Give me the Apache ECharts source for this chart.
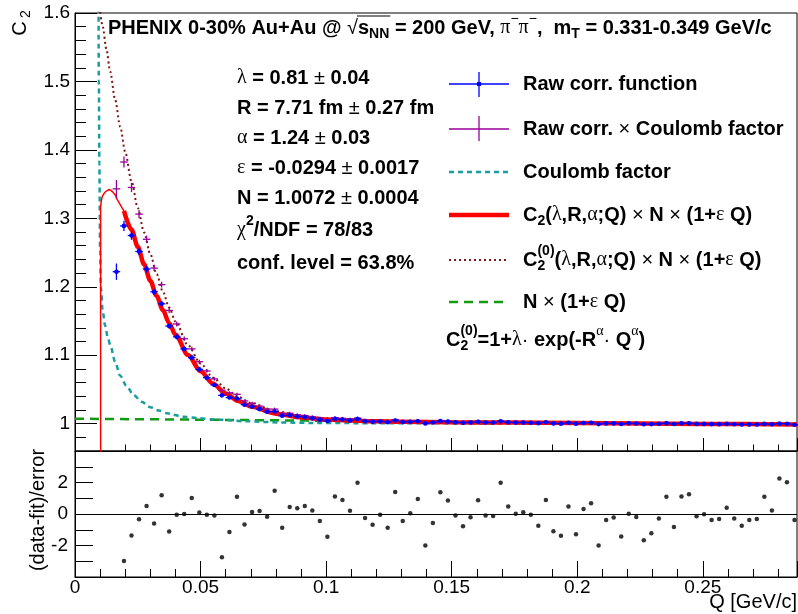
<!DOCTYPE html>
<html><head><meta charset="utf-8">
<script src="https://cdn.jsdelivr.net/npm/echarts@6/dist/echarts.min.js"></script>
<style>html,body{margin:0;padding:0;background:#fff}#c{width:798px;height:614px}</style>
</head><body><div id="c"></div>
<script>
// ---------------- data ----------------
const qBins = [0.0165, 0.0195, 0.0225, 0.0255, 0.0285, 0.0315, 0.0345, 0.0375, 0.0405, 0.0435,
  0.0465, 0.0495, 0.0525, 0.0555, 0.0585, 0.0615, 0.0645, 0.0675, 0.0705, 0.0735,
  0.0765, 0.0795, 0.0825, 0.0855, 0.0885, 0.0915, 0.0945, 0.0975, 0.1005, 0.1035,
  0.1065, 0.1095, 0.1125, 0.1155, 0.1185, 0.1215, 0.1245, 0.1275, 0.1305, 0.1335,
  0.1365, 0.1395, 0.1425, 0.1455, 0.1485, 0.1515, 0.1545, 0.1575, 0.1605, 0.1635,
  0.1665, 0.1695, 0.1725, 0.1755, 0.1785, 0.1815, 0.1845, 0.1875, 0.1905, 0.1935,
  0.1965, 0.1995, 0.2025, 0.2055, 0.2085, 0.2115, 0.2145, 0.2175, 0.2205, 0.2235,
  0.2265, 0.2295, 0.2325, 0.2355, 0.2385, 0.2415, 0.2445, 0.2475, 0.2505, 0.2535,
  0.2565, 0.2595, 0.2625, 0.2655, 0.2685, 0.2715, 0.2745, 0.2775, 0.2805, 0.2835, 0.2865];
const binHalfWidth = 0.0015;

const rawCorr = [1.222, 1.2889, 1.2749, 1.2515, 1.2258, 1.1926, 1.1751, 1.1426, 1.1268, 1.1092,
  1.0964, 1.0792, 1.0672, 1.0565, 1.0413, 1.0381, 1.0366, 1.0277, 1.0249, 1.0212,
  1.0174, 1.0177, 1.0115, 1.0122, 1.0103, 1.0093, 1.0077, 1.0058, 1.0038, 1.0069,
  1.0060, 1.0047, 1.0066, 1.0034, 1.0026, 1.0032, 1.0020, 1.0045, 1.0022, 1.0026,
  1.0035, 1.0003, 1.0017, 1.0036, 1.0029, 1.0019, 1.0012, 1.0017, 1.0026, 1.0016,
  1.0016, 1.0033, 1.0019, 1.0015, 1.0015, 1.0013, 1.0007, 1.0019, 1.0003, 1.0000,
  1.0013, 1.0000, 1.0010, 1.0013, 0.9993, 1.0003, 1.0003, 0.9995, 1.0004, 1.0002,
  0.9991, 0.9993, 0.9998, 1.0007, 0.9994, 1.0005, 1.0004, 0.9996, 0.9996, 0.9993,
  0.9992, 0.9996, 0.9991, 0.9988, 0.9989, 0.9988, 0.9996, 0.9990, 1.0000, 0.9997, 0.9984];
const rawErr = [0.012, 0.0074, 0.0064, 0.0056, 0.0051, 0.0046, 0.0042, 0.0038, 0.0036, 0.0033,
  0.0031, 0.0029, 0.0027, 0.0026, 0.0025, 0.0023, 0.0022, 0.0021, 0.0020, 0.0020,
  0.0019, 0.0018, 0.0017, 0.0017, 0.0016, 0.0016, 0.0015, 0.0015, 0.0014, 0.0014,
  0.00135, 0.0013, 0.0013, 0.00125, 0.0012, 0.0012, 0.00115, 0.00113, 0.0011, 0.00108,
  0.00105, 0.00103, 0.00101, 0.00099, 0.00097, 0.00095, 0.00093, 0.00091, 0.0009, 0.00088,
  0.00086, 0.00085, 0.00083, 0.00082, 0.00081, 0.00079, 0.00078, 0.00077, 0.00076, 0.00074,
  0.00073, 0.00072, 0.00071, 0.0007, 0.00069, 0.00068, 0.00067, 0.00066, 0.00065, 0.00064,
  0.00064, 0.00063, 0.00062, 0.00061, 0.0006, 0.0006, 0.00059, 0.00058, 0.00057, 0.00057,
  0.00056, 0.00055, 0.00055, 0.00054, 0.00054, 0.00053, 0.00052, 0.00052, 0.00051, 0.00051, 0.0005];

const coulombCorr = [1.343, 1.3823, 1.3451, 1.3061, 1.2694, 1.2273, 1.2031, 1.1654, 1.1456, 1.1240,
  1.1092, 1.0905, 1.0769, 1.0653, 1.0488, 1.0450, 1.0429, 1.0331, 1.0298, 1.0256,
  1.0214, 1.0212, 1.0148, 1.0151, 1.0130, 1.0117, 1.0100, 1.0080, 1.0058, 1.0087,
  1.0077, 1.0063, 1.0081, 1.0048, 1.0039, 1.0045, 1.0032, 1.0056, 1.0033, 1.0036,
  1.0044, 1.0012, 1.0025, 1.0044, 1.0037, 1.0027, 1.0020, 1.0024, 1.0033, 1.0023,
  1.0022, 1.0039, 1.0025, 1.0021, 1.0020, 1.0018, 1.0012, 1.0024, 1.0008, 1.0004,
  1.0017, 1.0004, 1.0014, 1.0017, 0.9997, 1.0006, 1.0006, 0.9998, 1.0007, 1.0005,
  0.9994, 0.9996, 1.0001, 1.0009, 0.9996, 1.0007, 1.0006, 0.9998, 0.9998, 0.9995,
  0.9994, 0.9998, 0.9993, 0.9989, 0.9990, 0.9989, 0.9997, 0.9991, 1.0001, 0.9998, 0.9985];
const coulombErr = [0.013, 0.0079, 0.0068, 0.0059, 0.0053, 0.0048, 0.0043, 0.0039, 0.0037, 0.0034,
  0.0031, 0.0029, 0.0027, 0.0026, 0.0025, 0.0023, 0.0022, 0.0021, 0.0020, 0.0020,
  0.0019, 0.0018, 0.0017, 0.0017, 0.0016, 0.0016, 0.0015, 0.0015, 0.0014, 0.0014,
  0.00135, 0.0013, 0.0013, 0.00125, 0.0012, 0.0012, 0.00115, 0.00113, 0.0011, 0.00108,
  0.00105, 0.00103, 0.00101, 0.00099, 0.00097, 0.00095, 0.00093, 0.00091, 0.0009, 0.00088,
  0.00086, 0.00085, 0.00083, 0.00082, 0.00081, 0.00079, 0.00078, 0.00077, 0.00076, 0.00074,
  0.00073, 0.00072, 0.00071, 0.0007, 0.00069, 0.00068, 0.00067, 0.00066, 0.00065, 0.00064,
  0.00064, 0.00063, 0.00062, 0.00061, 0.0006, 0.0006, 0.00059, 0.00058, 0.00057, 0.00057,
  0.00056, 0.00055, 0.00055, 0.00054, 0.00054, 0.00053, 0.00052, 0.00052, 0.00051, 0.00051, 0.0005];

// (data-fit)/error, bins 0.0195 ... 0.2865
const residQ = qBins.slice(1);
const residuals = [-2.98, -1.36, -0.34, 0.51, -0.61, 1.19, -1.11, -0.04, 0.00, 1.02,
  0.09, -0.04, -0.09, -2.75, -1.15, 1.09, -0.66, 0.13, 0.19, -0.17,
  1.47, -0.87, 0.45, 0.36, 0.51, 0.23, -0.45, -1.45, 1.11, 0.89,
  0.21, 1.98, -0.26, -0.68, -0.04, -0.87, 1.40, -0.45, 0.04, 0.96,
  -2.00, -0.57, 1.38, 0.85, -0.09, -0.77, -0.21, 0.87, -0.09, -0.13,
  1.98, 0.47, 0.02, 0.11, -0.04, -0.74, 0.89, -1.09, -1.38, 0.47,
  -1.28, 0.32, 0.68, -2.00, -0.38, -0.23, -1.43, 0.02, -0.19, -1.66,
  -1.23, -0.28, 1.09, -0.83, 1.11, 1.26, -0.15, -0.02, -0.38, -0.32,
  0.40, -0.28, -0.74, -0.38, -0.32, 1.09, 0.23, 2.26, 2.02, -0.38];

// fit curve C2 x N x (1+eps Q): thin part (outside fit range) and thick part
const fitThinQ = [0.0102, 0.0102, 0.0105, 0.0109, 0.0115, 0.0122, 0.0130, 0.0138, 0.0149, 0.0160, 0.0169, 0.0180, 0.0188, 0.0195];
const fitThinV = [0.900, 1.317, 1.326, 1.332, 1.336, 1.339, 1.341, 1.342, 1.339, 1.334, 1.327, 1.320, 1.315, 1.311];
const fitQ = [0.0195, 0.0225, 0.025, 0.0275, 0.03, 0.0325, 0.035, 0.0375, 0.04, 0.045, 0.05, 0.055, 0.06, 0.065, 0.07, 0.08, 0.09, 0.1, 0.11, 0.12, 0.13, 0.15, 0.175, 0.2, 0.25, 0.2875];
const fitV = [1.311, 1.2835, 1.2584, 1.2327, 1.2087, 1.1866, 1.1659, 1.1468, 1.1299, 1.1003, 1.0765, 1.0581, 1.0440, 1.0331, 1.0251, 1.0146, 1.0090, 1.0059, 1.0044, 1.0033, 1.0028, 1.0021, 1.0015, 1.0009, 0.9996, 0.9986];

// C2^(0) x N x (1+eps Q)
const c0Q = [0.0098, 0.011, 0.0125, 0.014, 0.016, 0.018, 0.020, 0.0225, 0.025, 0.0275, 0.030, 0.0325, 0.035, 0.0375, 0.040, 0.045, 0.050, 0.055, 0.060, 0.065, 0.070, 0.080, 0.090, 0.100, 0.120, 0.150, 0.200, 0.250, 0.2875];
const c0V = [1.6085, 1.5810, 1.5473, 1.5147, 1.4731, 1.4339, 1.3969, 1.3541, 1.3150, 1.2795, 1.2474, 1.2186, 1.1927, 1.1697, 1.1491, 1.1146, 1.0878, 1.0671, 1.0513, 1.0393, 1.0302, 1.0182, 1.0115, 1.0079, 1.0046, 1.0029, 1.0013, 0.9998, 0.9987];

// Coulomb factor
const coulQ = [0.0093, 0.0095, 0.0097, 0.0100, 0.0103, 0.0110, 0.0120, 0.0130, 0.0141, 0.0160, 0.0180, 0.0205, 0.0233, 0.0265, 0.0300, 0.0335, 0.0367, 0.0431, 0.0490, 0.0550, 0.0685, 0.0820, 0.0950, 0.1200, 0.1600, 0.2200, 0.2875];
const coulV = [1.70, 1.50, 1.38, 1.25, 1.20, 1.165, 1.143, 1.127, 1.114, 1.090, 1.070, 1.055, 1.042, 1.032, 1.024, 1.019, 1.015, 1.010, 1.008, 1.0063, 1.0034, 1.0017, 1.0010, 1.0006, 1.0003, 1.0002, 1.0001];

// N x (1 + eps Q)
const baseQ = [0, 0.2875];
const baseV = [1.0072, 0.9987];

// axes
const Q_MAX = 0.2875;
const C2_MIN = 0.96, C2_MAX = 1.6;
const RES_MIN = -4, RES_MAX = 4;

// ---------------- styles ----------------
const SANS = '"Liberation Sans", Arial, Helvetica, sans-serif';
const SERIF = '"Liberation Serif", "Times New Roman", serif';
const COL = { blue:'#0000ff', purple:'#990099', teal:'#1a9d9d', red:'#ff0000', dotted:'#801515', green:'#139a13' };
const DASH = { teal:[5,4], dotted:[2,3], green:[9,6] };

const pairs = (xs, ys) => xs.map((x, i) => [x, ys[i]]);

function errRender(color, withDot){
  return function(params, api){
    const x = api.value(0), y = api.value(1), e = api.value(2);
    const c = api.coord([x, y]);
    const t = api.coord([x, y + e]);
    const b = api.coord([x, y - e]);
    const l = api.coord([x - binHalfWidth, y]);
    const r = api.coord([x + binHalfWidth, y]);
    const ch = [
      {type:'line', shape:{x1:l[0], y1:c[1], x2:r[0], y2:c[1]}, style:{stroke:color, lineWidth:1.3}},
      {type:'line', shape:{x1:c[0], y1:Math.min(t[1], c[1]-1.5), x2:c[0], y2:Math.max(b[1], c[1]+1.5)}, style:{stroke:color, lineWidth:1.3}}
    ];
    if (withDot) ch.push({type:'circle', shape:{cx:c[0], cy:c[1], r:2.3}, style:{fill:color}});
    return {type:'group', children: ch};
  };
}

// ---------------- text helpers ----------------
const mctx = document.createElement('canvas').getContext('2d');
function fontOf(p){ return (p.w || 'bold') + ' ' + (p.s || 20) + 'px ' + (p.f || SANS); }
function tw(t, p){ mctx.font = fontOf(p); return mctx.measureText(t).width; }
const G = [];
function run(x, y, pieces){
  let cx = x; const pos = [];
  pieces.forEach(p => {
    const font = fontOf(p);
    const wdt = tw(p.t, p);
    G.push({type:'text', x:cx, y:y + (p.dy || 0), z:100, silent:true,
      style:{text:p.t, font:font, fill:'#000', align:'left', verticalAlign:'middle', textAlign:'left', textVerticalAlign:'middle'}});
    pos.push([cx, cx + wdt]);
    if (p.adv !== false) cx += (p.aw != null ? p.aw : wdt);
  });
  return pos;
}
const B = (t) => ({t});
const Nn = (t) => ({t, w:'normal'});
const Gk = (t) => ({t, w:'normal', f:SERIF});
const Sub = (t, extra) => Object.assign({t, s:14, dy:6}, extra || {});
const Sup = (t, extra) => Object.assign({t, s:14, dy:-9}, extra || {});

// title
const tpos = run(108, 28, [B('PHENIX 0-30% Au+Au @ '), Nn('\u221A'), B('s'), Sub('NN'), B(' = 200 GeV, '),
  Gk('\u03C0'), Sup('\u2212', {w:'normal'}), Gk('\u03C0'), Sup('\u2212', {w:'normal'}), B(',  m'), Sub('T'), B(' = 0.331-0.349 GeV/c')]);
G.push({type:'line', z:100, silent:true, shape:{x1:tpos[1][1] - 1, y1:16, x2:tpos[3][1] + 1, y2:16}, style:{stroke:'#000', lineWidth:1.2}});

// fit parameters
const PX = 237;
run(PX, 78, [Gk('\u03BB'), B(' = 0.81 '), Nn('\u00B1'), B(' 0.04')]);
run(PX, 108, [B('R = 7.71 fm '), Nn('\u00B1'), B(' 0.27 fm')]);
run(PX, 138, [Gk('\u03B1'), B(' = 1.24 '), Nn('\u00B1'), B(' 0.03')]);
run(PX, 168, [Gk('\u03B5'), B(' = -0.0294 '), Nn('\u00B1'), B(' 0.0017')]);
run(PX, 198, [B('N = 1.0072 '), Nn('\u00B1'), B(' 0.0004')]);
run(PX, 230, [Gk('\u03C7'), Sup('2'), B('/NDF = 78/83')]);
run(PX, 263, [B('conf. level = 63.8%')]);

// legend
const LX0 = 449, LX1 = 509, LT = 523;
const LY = [84, 129, 172, 215, 260, 302];
G.push({type:'line', z:100, shape:{x1:LX0, y1:LY[0], x2:LX1, y2:LY[0]}, style:{stroke:COL.blue, lineWidth:1.3}});
G.push({type:'line', z:100, shape:{x1:(LX0+LX1)/2, y1:LY[0]-12, x2:(LX0+LX1)/2, y2:LY[0]+13}, style:{stroke:COL.blue, lineWidth:1.3}});
G.push({type:'rect', z:100, shape:{x:(LX0+LX1)/2-2, y:LY[0]-2, width:4, height:4}, style:{fill:COL.blue}});
G.push({type:'line', z:100, shape:{x1:LX0, y1:LY[1], x2:LX1, y2:LY[1]}, style:{stroke:COL.purple, lineWidth:1.3}});
G.push({type:'line', z:100, shape:{x1:(LX0+LX1)/2, y1:LY[1]-13, x2:(LX0+LX1)/2, y2:LY[1]+12}, style:{stroke:COL.purple, lineWidth:1.3}});
G.push({type:'line', z:100, shape:{x1:LX0, y1:LY[2], x2:LX1, y2:LY[2]}, style:{stroke:COL.teal, lineWidth:2.5, lineDash:DASH.teal}});
G.push({type:'line', z:100, shape:{x1:LX0, y1:LY[3], x2:LX1, y2:LY[3]}, style:{stroke:COL.red, lineWidth:4.5}});
G.push({type:'line', z:100, shape:{x1:LX0, y1:LY[4], x2:LX1, y2:LY[4]}, style:{stroke:COL.dotted, lineWidth:2, lineDash:DASH.dotted}});
G.push({type:'line', z:100, shape:{x1:LX0, y1:LY[5], x2:LX1, y2:LY[5]}, style:{stroke:COL.green, lineWidth:2.5, lineDash:DASH.green}});

run(LT, LY[0], [B('Raw corr. function')]);
run(LT, LY[1], [B('Raw corr. '), Nn('\u00D7'), B(' Coulomb factor')]);
run(LT, LY[2], [B('Coulomb factor')]);
const tailC2 = [B('('), Gk('\u03BB'), B(',R,'), Gk('\u03B1'), B(';Q) '), Nn('\u00D7'), B(' N '), Nn('\u00D7'), B(' (1+'), Gk('\u03B5'), B(' Q)')];
run(LT, LY[3], [B('C'), Sub('2')].concat(tailC2));
const w0 = tw('(0)', {s:14});
run(LT, LY[4], [B('C'), Sup('(0)', {adv:false}), Sub('2', {aw:w0})].concat(tailC2));
run(LT, LY[5], [B('N '), Nn('\u00D7'), B(' (1+'), Gk('\u03B5'), B(' Q)')]);
run(446, 340, [B('C'), Sup('(0)', {adv:false}), Sub('2', {aw:w0}), B('=1+'), Gk('\u03BB'), Nn('\u00B7'), B(' exp(-R'),
  Sup('\u03B1', {w:'normal', f:SERIF}), Nn('\u00B7'), B(' Q'), Sup('\u03B1', {w:'normal', f:SERIF}), B(')')]);

// axis titles
G.push({type:'text', x:20, y:28.5, rotation:Math.PI/2, z:100, style:{text:'C', font:'normal 20px ' + SANS, fill:'#000', align:'center', verticalAlign:'middle', textAlign:'center', textVerticalAlign:'middle'}});
G.push({type:'text', x:26, y:14, rotation:Math.PI/2, z:100, style:{text:'2', font:'normal 14px ' + SANS, fill:'#000', align:'center', verticalAlign:'middle', textAlign:'center', textVerticalAlign:'middle'}});
G.push({type:'text', x:38.5, y:510, rotation:Math.PI/2, z:100, style:{text:'(data-fit)/error', font:'normal 20px ' + SANS, fill:'#000', align:'center', verticalAlign:'middle', textAlign:'center', textVerticalAlign:'middle'}});
G.push({type:'text', x:797, y:602, z:100, style:{text:'Q [GeV/c]', font:'normal 20px ' + SANS, fill:'#000', align:'right', verticalAlign:'middle', textAlign:'right', textVerticalAlign:'middle'}});

// ---------------- chart ----------------
const axisBlack = {show:true, onZero:false, lineStyle:{color:'#000', width:1}};
const xFmt = v => { const k = Math.round(v / 0.05); if (Math.abs(v - k * 0.05) > 1e-9) return ''; return String(+(k * 0.05).toFixed(2)); };
const yFmt = v => { const k = Math.round(v * 10); if (Math.abs(v * 10 - k) > 1e-6) return ''; return String(k / 10); };
const rFmt = v => (Math.abs(v) === 2 || v === 0) ? String(v) : '';

const chart = echarts.init(document.getElementById('c'), null, {renderer:'canvas'});
chart.setOption({
  animation:false,
  backgroundColor:'#fff',
  grid:[
    {left:75, top:13, width:722, height:438, show:true, borderColor:'#000', borderWidth:1, backgroundColor:'rgba(0,0,0,0)'},
    {left:75, top:451, width:722, height:126, show:true, borderColor:'#000', borderWidth:1, backgroundColor:'rgba(0,0,0,0)'}
  ],
  xAxis:[
    {gridIndex:0, type:'value', min:0, max:Q_MAX, interval:0.05, axisLine:axisBlack,
      axisTick:{show:true, inside:true, length:13, lineStyle:{color:'#000'}},
      minorTick:{show:true, splitNumber:5, length:6.5, lineStyle:{color:'#000'}},
      axisLabel:{show:false}, splitLine:{show:false}, minorSplitLine:{show:false}},
    {gridIndex:1, type:'value', min:0, max:Q_MAX, interval:0.05, axisLine:axisBlack,
      axisTick:{show:true, inside:true, length:16, lineStyle:{color:'#000'}},
      minorTick:{show:true, splitNumber:5, length:8, lineStyle:{color:'#000'}},
      axisLabel:{show:true, color:'#000', fontSize:19, fontFamily:SANS, margin:1, formatter:xFmt, showMaxLabel:false},
      splitLine:{show:false}}
  ],
  yAxis:[
    {gridIndex:0, type:'value', min:C2_MIN, max:C2_MAX, splitNumber:5, axisLine:axisBlack,
      axisTick:{show:true, inside:true, length:22, lineStyle:{color:'#000'}},
      minorTick:{show:true, splitNumber:5, length:11, lineStyle:{color:'#000'}},
      axisLabel:{show:true, color:'#000', fontSize:19, fontFamily:SANS, margin:5, formatter:yFmt, showMinLabel:false},
      splitLine:{show:false}},
    {gridIndex:1, type:'value', min:RES_MIN, max:RES_MAX, interval:1, axisLine:axisBlack,
      axisTick:{show:true, inside:true, length:18, lineStyle:{color:'#000'}},
      axisLabel:{show:true, color:'#000', fontSize:19, fontFamily:SANS, margin:7, formatter:rFmt},
      splitLine:{show:false}}
  ],
  series:[
    {type:'line', name:'N x (1+eps Q)', xAxisIndex:0, yAxisIndex:0, z:2, data:pairs(baseQ, baseV), showSymbol:false, silent:true,
      lineStyle:{color:COL.green, width:2.5, type:DASH.green}},
    {type:'line', name:'Coulomb factor', xAxisIndex:0, yAxisIndex:0, z:2, data:pairs(coulQ, coulV), showSymbol:false, silent:true,
      smooth:0.3, smoothMonotone:'x', lineStyle:{color:COL.teal, width:2.5, type:DASH.teal}},
    {type:'line', name:'C2(0) fit', xAxisIndex:0, yAxisIndex:0, z:2, data:pairs(c0Q, c0V), showSymbol:false, silent:true,
      smooth:0.3, smoothMonotone:'x', lineStyle:{color:COL.dotted, width:2, type:DASH.dotted}},
    {type:'line', name:'fit (outside range)', xAxisIndex:0, yAxisIndex:0, z:3, data:pairs(fitThinQ, fitThinV), showSymbol:false, silent:true,
      lineStyle:{color:COL.red, width:1.5}},
    {type:'line', name:'fit', xAxisIndex:0, yAxisIndex:0, z:3, data:pairs(fitQ, fitV), showSymbol:false, silent:true,
      smooth:0.3, smoothMonotone:'x', lineStyle:{color:COL.red, width:4.5}},
    {type:'custom', name:'Raw corr. x Coulomb', xAxisIndex:0, yAxisIndex:0, z:5, silent:true,
      data:qBins.map((q, i) => [q, coulombCorr[i], coulombErr[i]]), renderItem:errRender(COL.purple, false)},
    {type:'custom', name:'Raw corr.', xAxisIndex:0, yAxisIndex:0, z:6, silent:true,
      data:qBins.map((q, i) => [q, rawCorr[i], rawErr[i]]), renderItem:errRender(COL.blue, true)},
    {type:'scatter', name:'residuals', xAxisIndex:1, yAxisIndex:1, data:pairs(residQ, residuals), symbol:'circle', symbolSize:4.5, silent:true,
      itemStyle:{color:'#000'},
      markLine:{silent:true, symbol:'none', label:{show:false}, lineStyle:{color:'#000', width:1, type:'solid'}, data:[{yAxis:0}]}}
  ],
  graphic:{elements:G}
});
</script></body></html>
